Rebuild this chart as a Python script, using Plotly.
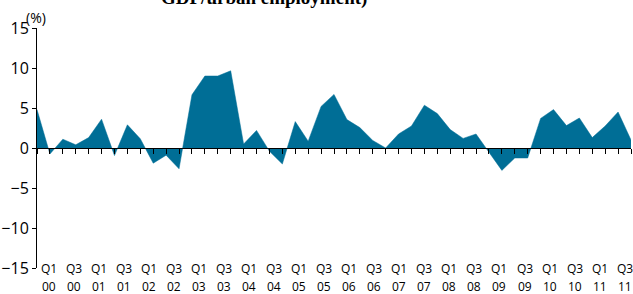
import plotly.graph_objects as go

# Quarterly data Q1 2000 .. Q3 2011 (%)
growth = [4.8, -0.75, 1.1, 0.4, 1.3, 3.6, -0.95, 2.9, 1.15, -1.9, -0.9, -2.6,
          6.65, 9.0, 9.0, 9.65, 0.5, 2.2, -0.4, -2.0, 3.3, 0.85, 5.2, 6.7,
          3.55, 2.55, 0.95, 0.0, 1.75, 2.75, 5.35, 4.3, 2.3, 1.2, 1.75, -0.6,
          -2.8, -1.25, -1.25, 3.7, 4.8, 2.8, 3.75, 1.3, 2.75, 4.5, 1.0]
label_quarters = ["Q1", "Q3"] * 12
label_years = ["00", "00", "01", "01", "02", "02", "03", "03", "04", "04", "05", "05",
               "06", "06", "07", "07", "08", "08", "09", "09", "10", "10", "11", "11"]
y_ticks = [-15, -10, -5, 0, 5, 10, 15]

idx = list(range(len(growth)))
label_pos = [0.95 + 1.937 * k for k in range(len(label_quarters))]

COLOR = "#006E96"
FONT = "Open Sans"

fig = go.Figure()
fig.add_trace(go.Scatter(x=idx, y=growth, mode="lines", fill="tozeroy",
                         fillcolor=COLOR, line=dict(color=COLOR, width=0.5),
                         hoverinfo="skip", showlegend=False))
fig.add_trace(go.Scatter(x=[], y=[], xaxis="x2", showlegend=False))

annotations = [
    dict(text="<b>GDP/urban employment)</b>", xref="paper", yref="paper",
         x=0.382, y=1.073, xanchor="center", yanchor="bottom", showarrow=False,
         font=dict(family="Liberation Serif", size=19, color="black"),
         borderpad=0),
    dict(text="(%)", xref="paper", yref="paper", x=-0.0017, y=1.044,
         xanchor="center", yanchor="middle", showarrow=False,
         font=dict(size=14, color="black"), borderpad=0),
]
for pos, q, yr in zip(label_pos, label_quarters, label_years):
    annotations.append(dict(text=q, xref="x", yref="paper", x=pos, y=-0.002,
                            xanchor="center", yanchor="middle", showarrow=False,
                            font=dict(size=12, color="black"), borderpad=0))
    annotations.append(dict(text=yr, xref="x", yref="paper", x=pos, y=-0.079,
                            xanchor="center", yanchor="middle", showarrow=False,
                            font=dict(size=12, color="black"), borderpad=0))

fig.update_layout(
    width=633, height=294,
    margin=dict(l=37, r=2, t=28, b=26, autoexpand=False),
    plot_bgcolor="white", paper_bgcolor="white",
    font=dict(family=FONT, color="black"),
    hovermode=False,
    xaxis=dict(range=[0, 46], showgrid=False, zeroline=False, showline=False,
               showticklabels=False, ticks="", automargin=False),
    xaxis2=dict(overlaying="x", anchor="free", position=0.5, matches="x",
                showgrid=False, zeroline=False, showline=True, linecolor="black",
                linewidth=1, ticks="outside", ticklen=5, tickcolor="black",
                tickvals=idx, showticklabels=False, automargin=False),
    yaxis=dict(range=[-15, 15], tickvals=y_ticks, showgrid=False, zeroline=False,
               showline=True, linecolor="black", linewidth=1, ticks="outside",
               ticklen=4, tickcolor="black", tickfont=dict(size=16),
               automargin=False),
    annotations=annotations,
)

fig.write_html("out.html", config={"displayModeBar": False},
               post_script="document.body.style.margin='0';document.body.style.overflow='hidden';")
